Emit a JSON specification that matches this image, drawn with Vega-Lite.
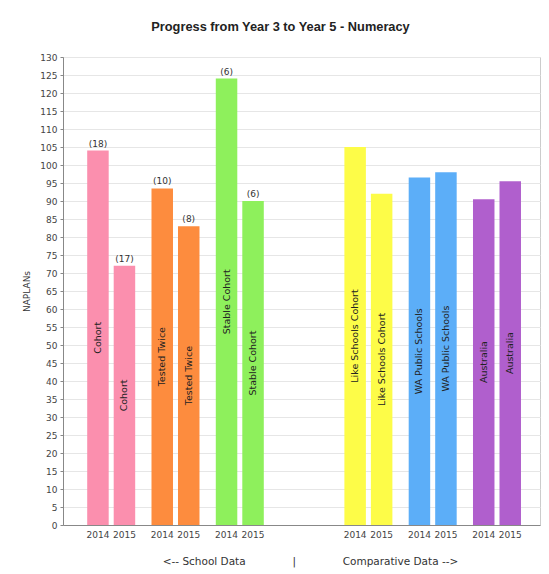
{
  "$schema": "https://vega.github.io/schema/vega-lite/v6.json",
  "width": 477,
  "height": 468,
  "autosize": {"type": "none"},
  "padding": {"left": 63, "top": 57, "right": 9, "bottom": 49},
  "background": "white",
  "title": {
    "text": "Progress from Year 3 to Year 5 - Numeracy",
    "font": "Liberation Sans",
    "fontSize": 12.8,
    "fontWeight": "bold",
    "color": "#222222",
    "anchor": "middle",
    "dx": -21,
    "offset": 19
  },
  "data": {
    "values": [
      {"group": "Cohort", "year": "2014", "value": 104, "label": "Cohort", "count": "(18)"},
      {"group": "Cohort", "year": "2015", "value": 72, "label": "Cohort", "count": "(17)"},
      {"group": "Tested Twice", "year": "2014", "value": 93.5, "label": "Tested Twice", "count": "(10)"},
      {"group": "Tested Twice", "year": "2015", "value": 83, "label": "Tested Twice", "count": "(8)"},
      {"group": "Stable Cohort", "year": "2014", "value": 124, "label": "Stable Cohort", "count": "(6)"},
      {"group": "Stable Cohort", "year": "2015", "value": 90, "label": "Stable Cohort", "count": "(6)"},
      {"group": "Like Schools Cohort", "year": "2014", "value": 105, "label": "Like Schools Cohort", "count": null},
      {"group": "Like Schools Cohort", "year": "2015", "value": 92, "label": "Like Schools Cohort", "count": null},
      {"group": "WA Public Schools", "year": "2014", "value": 96.5, "label": "WA Public Schools", "count": null},
      {"group": "WA Public Schools", "year": "2015", "value": 98, "label": "WA Public Schools", "count": null},
      {"group": "Australia", "year": "2014", "value": 90.5, "label": "Australia", "count": null},
      {"group": "Australia", "year": "2015", "value": 95.5, "label": "Australia", "count": null}
    ]
  },
  "encoding": {
    "x": {
      "field": "group",
      "type": "nominal",
      "sort": null,
      "scale": {
        "domain": ["Cohort", "Tested Twice", "Stable Cohort", " ", "Like Schools Cohort", "WA Public Schools", "Australia"],
        "paddingInner": 0.2535,
        "paddingOuter": 0.336,
        "align": 0.56
      },
      "axis": {
        "labels": false,
        "ticks": false,
        "domainColor": "#888888",
        "title": "<-- School Data\u00a0\u00a0\u00a0\u00a0\u00a0\u00a0\u00a0\u00a0\u00a0\u00a0\u00a0\u00a0\u00a0\u00a0|\u00a0\u00a0\u00a0\u00a0\u00a0\u00a0\u00a0\u00a0\u00a0\u00a0\u00a0\u00a0\u00a0\u00a0Comparative Data -->",
        "titleFont": "DejaVu Sans",
        "titleFontSize": 10.5,
        "titleFontWeight": "normal",
        "titleColor": "#333333",
        "titleX": 247,
        "titlePadding": 31
      }
    },
    "xOffset": {
      "field": "year",
      "type": "nominal",
      "scale": {"paddingInner": 0.189, "paddingOuter": 0}
    }
  },
  "layer": [
    {
      "mark": {"type": "bar"},
      "encoding": {
        "y": {
          "field": "value",
          "type": "quantitative",
          "scale": {"domain": [0, 130], "nice": false},
          "axis": {
            "values": [0, 5, 10, 15, 20, 25, 30, 35, 40, 45, 50, 55, 60, 65, 70, 75, 80, 85, 90, 95, 100, 105, 110, 115, 120, 125, 130],
            "labelOverlap": false,
            "title": "NAPLANs"
          }
        },
        "color": {
          "field": "group",
          "type": "nominal",
          "scale": {
            "domain": ["Cohort", "Tested Twice", "Stable Cohort", "Like Schools Cohort", "WA Public Schools", "Australia"],
            "range": ["#fb8fae", "#fd8c3e", "#8ef05c", "#fdfc48", "#5caef8", "#b05fcd"]
          },
          "legend": null
        }
      }
    },
    {
      "transform": [{"calculate": "datum.value / 2", "as": "mid"}],
      "mark": {
        "type": "text",
        "angle": 270,
        "font": "DejaVu Sans",
        "fontSize": 9.5,
        "color": "#222222",
        "baseline": "middle",
        "align": "center"
      },
      "encoding": {
        "y": {
          "field": "mid",
          "type": "quantitative",
          "axis": {
            "values": [0, 5, 10, 15, 20, 25, 30, 35, 40, 45, 50, 55, 60, 65, 70, 75, 80, 85, 90, 95, 100, 105, 110, 115, 120, 125, 130],
            "labelOverlap": false,
            "title": "NAPLANs"
          }
        },
        "text": {"field": "label"}
      }
    },
    {
      "transform": [{"filter": "datum.count != null"}],
      "mark": {
        "type": "text",
        "font": "DejaVu Sans",
        "fontSize": 9,
        "color": "#333333",
        "baseline": "bottom",
        "dy": -2
      },
      "encoding": {
        "y": {
          "field": "value",
          "type": "quantitative",
          "axis": {
            "values": [0, 5, 10, 15, 20, 25, 30, 35, 40, 45, 50, 55, 60, 65, 70, 75, 80, 85, 90, 95, 100, 105, 110, 115, 120, 125, 130],
            "labelOverlap": false,
            "title": "NAPLANs"
          }
        },
        "text": {"field": "count"}
      }
    },
    {
      "mark": {
        "type": "text",
        "font": "DejaVu Sans",
        "fontSize": 9,
        "color": "#444444",
        "baseline": "top",
        "dy": 6
      },
      "encoding": {
        "y": {
          "datum": 0,
          "type": "quantitative",
          "axis": {
            "values": [0, 5, 10, 15, 20, 25, 30, 35, 40, 45, 50, 55, 60, 65, 70, 75, 80, 85, 90, 95, 100, 105, 110, 115, 120, 125, 130],
            "labelOverlap": false,
            "title": "NAPLANs"
          }
        },
        "text": {"field": "year"}
      }
    }
  ],
  "config": {
    "view": {"stroke": "#cccccc"},
    "axisY": {
      "titleFont": "DejaVu Sans",
      "titleFontSize": 9,
      "titleFontWeight": "normal",
      "titleColor": "#333333",
      "titlePadding": 8,
      "labelFont": "DejaVu Sans",
      "labelFontSize": 9,
      "labelColor": "#444444",
      "labelPadding": 3,
      "tickSize": 3,
      "tickColor": "#888888",
      "domainColor": "#888888",
      "gridColor": "#e6e6e6"
    }
  }
}
